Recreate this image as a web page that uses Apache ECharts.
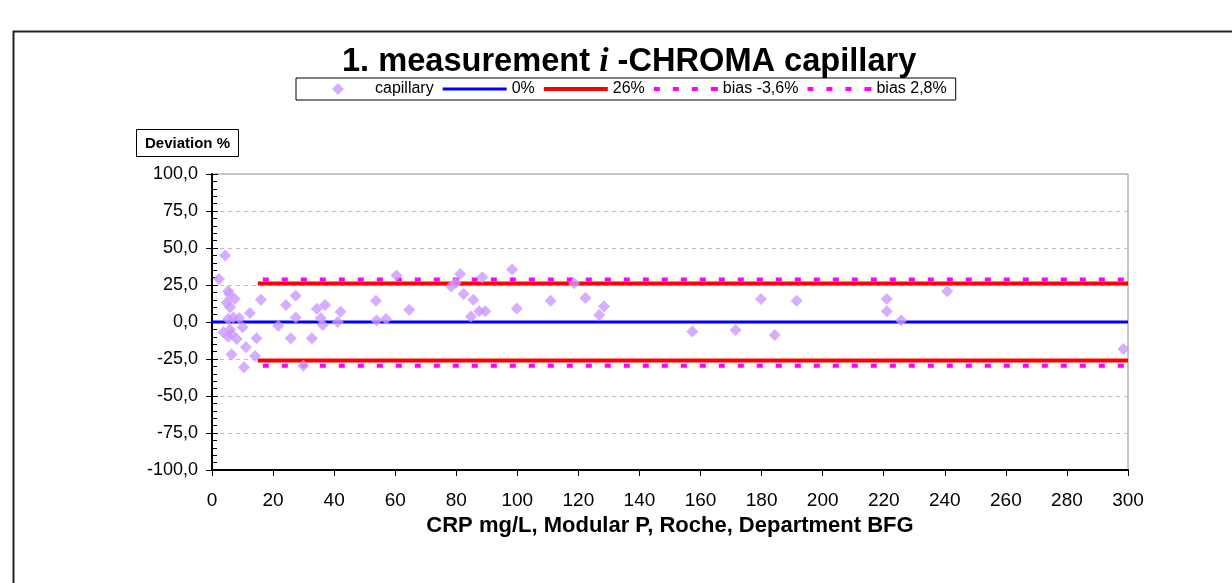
<!DOCTYPE html>
<html>
<head>
<meta charset="utf-8">
<script src="https://cdn.jsdelivr.net/npm/echarts@6/dist/echarts.min.js"></script>
<style>
html,body{margin:0;padding:0;background:#fff;}
#chart{width:1232px;height:583px;}
</style>
</head>
<body>
<div id="chart"></div>
<script>
// ---- data ----
const capX = [2.3,4.3,5.3,5.7,4.8,7.5,5.9,5.3,7,8.9,10,3.7,5.9,5.3,8.1,6.4,11.1,6.4,10.5,14.1,14.6,12.4,16,21.7,24.2,25.8,27.4,27.4,29.9,32.7,34.3,37,35.6,36.3,42.1,41.2,53.7,53.9,57,60.4,64.6,78.3,79.8,81.3,82.4,85.6,84.8,87.5,89.5,88.5,98.3,99.8,110.9,118.6,122.3,128.4,126.8,157.3,171.5,179.8,184.3,191.5,221,221,225.7,240.8,298.5];
const capY = [29,45,21,19,13,15.5,10,2,3,2.7,-3.6,-7,-5,-10,-11.5,-8,-17,-22,-30.6,-23,-11,6,15,-2.5,11.5,-11,17.8,3,-29.5,-11,9,11.5,2.5,-2,7,0,14.4,1,2,31.5,8.3,24,26.4,32.4,19,15,3.8,7.2,7.2,30.2,35.4,9.2,14.4,26.1,16.2,10.4,4.7,-6.5,-5.4,15.5,-8.8,14.4,15.5,7.2,1,20.7,-18.2];
const zeroLineX = [0, 300];
const zeroLineY = [0, 0];
const limitX = [15, 300];
const limitUpperY = [26, 26];
const limitLowerY = [-26, -26];
const biasLowY = [-29.6, -29.6];   // bias -3,6%
const biasHighY = [28.8, 28.8];    // bias 2,8%
const seriesNames = ['capillary', '0%', '26%', 'bias -3,6%', 'bias 2,8%'];
const titleText = '1. measurement ';
const titleItalic = 'i';
const titleRest = ' -CHROMA capillary';
const yTitle = 'Deviation %';
const xTitle = 'CRP mg/L, Modular P, Roche, Department BFG';

const zip = (xs, ys) => xs.map((x, i) => [x, ys[i]]);
const FONT = "'Liberation Sans', Arial, sans-serif";

// legend icon shapes (64 x 12 boxes, bounds fixed by the two leading moveTo points)
const BOX = 'path://M0,0 M64,12 ';
const iconDiamond = BOX + 'M32,0 L38,6 L32,12 L26,6 Z';
const iconBlue = BOX + 'M0,4.5 L64,4.5 L64,7.5 L0,7.5 Z';
const iconRed = BOX + 'M0,4 L64,4 L64,8 L0,8 Z';
const iconDots = BOX + 'M0,4 h6 v4 h-6 Z M19,4 h6 v4 h-6 Z M38,4 h6 v4 h-6 Z M57,4 h7 v4 h-7 Z';

const chart = echarts.init(document.getElementById('chart'), null, {renderer: 'canvas'});
const magentaStyle = {color: '#FF00FF', width: 4, type: [6, 13], dashOffset: 14, cap: 'butt'};

chart.setOption({
  animation: false,
  backgroundColor: '#fff',
  graphic: [{
    type: 'rect', left: 11, top: 29, z: -10, silent: true,
    shape: {width: 1240, height: 600},
    style: {fill: 'none', stroke: '#222', lineWidth: 2}
  }],
  title: [{
    left: 337, top: 40,
    text: '{a|' + titleText + '}{i|' + titleItalic + '}{a|' + titleRest + '}',
    textStyle: {
      rich: {
        a: {fontFamily: FONT, fontWeight: 'bold', fontSize: 32.6, color: '#000'},
        i: {fontFamily: "'Liberation Serif', 'Times New Roman', serif", fontStyle: 'italic', fontWeight: 'bold', fontSize: 34, color: '#000'}
      }
    }
  }, {
    left: 136, top: 129,
    text: yTitle,
    borderColor: '#000', borderWidth: 1,
    padding: [7, 9, 6, 9],
    textStyle: {fontFamily: FONT, fontWeight: 'bold', fontSize: 15, color: '#000'}
  }],
  legend: {
    left: 296, top: 78,
    borderColor: '#000', borderWidth: 1,
    padding: [3, 9, 3, 10],
    itemWidth: 64, itemHeight: 12, itemGap: 9,
    symbolKeepAspect: true,
    itemStyle: {borderWidth: 0},
    data: [
      {name: seriesNames[0], icon: iconDiamond},
      {name: seriesNames[1], icon: iconBlue},
      {name: seriesNames[2], icon: iconRed},
      {name: seriesNames[3], icon: iconDots},
      {name: seriesNames[4], icon: iconDots}
    ],
    textStyle: {fontFamily: FONT, fontSize: 16, color: '#000'}
  },
  grid: {
    left: 212, right: 104, top: 174, bottom: 113,
    show: true, borderColor: '#8c8c8c', borderWidth: 1, backgroundColor: 'transparent'
  },
  xAxis: {
    type: 'value', min: 0, max: 300, interval: 20,
    name: xTitle, nameLocation: 'middle', nameGap: 43,
    nameTextStyle: {fontFamily: FONT, fontWeight: 'bold', fontSize: 22, color: '#000'},
    axisLine: {onZero: false, lineStyle: {color: '#000', width: 2}},
    axisTick: {show: true, length: 6, lineStyle: {color: '#000', width: 1}},
    axisLabel: {fontFamily: FONT, fontSize: 19, color: '#000', margin: 21},
    splitLine: {show: false}
  },
  yAxis: [{
    type: 'value', min: -100, max: 100, interval: 25,
    axisLine: {show: true, lineStyle: {color: '#000', width: 2}},
    axisTick: {show: true, length: 6, lineStyle: {color: '#000', width: 1}},
    axisLabel: {fontFamily: FONT, fontSize: 18, color: '#000', margin: 14,
      formatter: v => v.toFixed(1).replace('.', ',')},
    splitLine: {show: true, lineStyle: {color: '#C0C0C0', width: 1, type: [4, 4]}}
  }, {
    type: 'value', min: -100, max: 100, interval: 25, position: 'left', offset: 0,
    axisLine: {show: false},
    axisTick: {show: true, inside: true, length: 6, lineStyle: {color: '#000', width: 1}},
    minorTick: {show: true, splitNumber: 5, length: 5, lineStyle: {color: '#000', width: 1}},
    axisLabel: {show: false},
    splitLine: {show: false}
  }],
  series: [{
    name: seriesNames[1], type: 'line', symbol: 'none', z: 2,
    data: zip(zeroLineX, zeroLineY),
    itemStyle: {color: '#0000FF'},
    lineStyle: {color: '#0000FF', width: 3}
  }, {
    name: seriesNames[2], type: 'line', symbol: 'none', z: 2,
    data: zip(limitX, limitUpperY),
    itemStyle: {color: '#FF0000'},
    lineStyle: {color: '#FF0000', width: 4}
  }, {
    name: seriesNames[2], type: 'line', symbol: 'none', z: 2,
    data: zip(limitX, limitLowerY),
    itemStyle: {color: '#FF0000'},
    lineStyle: {color: '#FF0000', width: 4}
  }, {
    name: seriesNames[3], type: 'line', symbol: 'none', z: 2,
    data: zip(limitX, biasLowY),
    itemStyle: {color: '#FF00FF'},
    lineStyle: magentaStyle
  }, {
    name: seriesNames[4], type: 'line', symbol: 'none', z: 2,
    data: zip(limitX, biasHighY),
    itemStyle: {color: '#FF00FF'},
    lineStyle: magentaStyle
  }, {
    name: seriesNames[0], type: 'scatter', symbol: 'diamond', symbolSize: 12, z: 3,
    data: zip(capX, capY),
    itemStyle: {color: '#CC99FF'}
  }]
});
</script>
</body>
</html>
